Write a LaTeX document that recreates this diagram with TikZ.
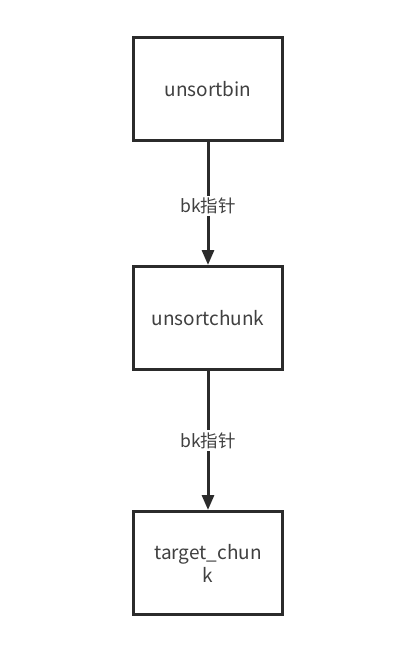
\documentclass[tikz,border=0pt]{standalone}
\usepackage{fontspec}
\setmainfont{Noto Sans CJK SC}
\usetikzlibrary{arrows.meta}
\definecolor{edge}{HTML}{2B2B2B}
\definecolor{txt}{HTML}{404040}
\begin{document}
\begin{tikzpicture}[x=1pt,y=-1pt,
  box/.style={draw=edge,line width=3pt,minimum width=149pt,minimum height=103pt,inner sep=0pt,text=txt,font=\fontsize{19}{23}\selectfont,align=center},
  conn/.style={draw=edge,line width=3pt,-{Triangle[length=15pt,width=12pt]}},
  lbl/.style={fill=white,text=txt,font=\fontsize{17.5}{20}\selectfont,inner sep=2pt}]
\fill[white] (0,0) rectangle (400,646);
\useasboundingbox (0,0) rectangle (400,646);
\node[box] (a) at (208,89) {unsortbin};
\node[box] (b) at (208,318) {unsortchunk};
\node[box] (c) at (208,563) {target\_chun\\k};
\draw[conn] (a) -- (b) node[lbl,pos=0.52] {bk指针};
\draw[conn] (b) -- (c) node[lbl,pos=0.5] {bk指针};
\end{tikzpicture}
\end{document}
